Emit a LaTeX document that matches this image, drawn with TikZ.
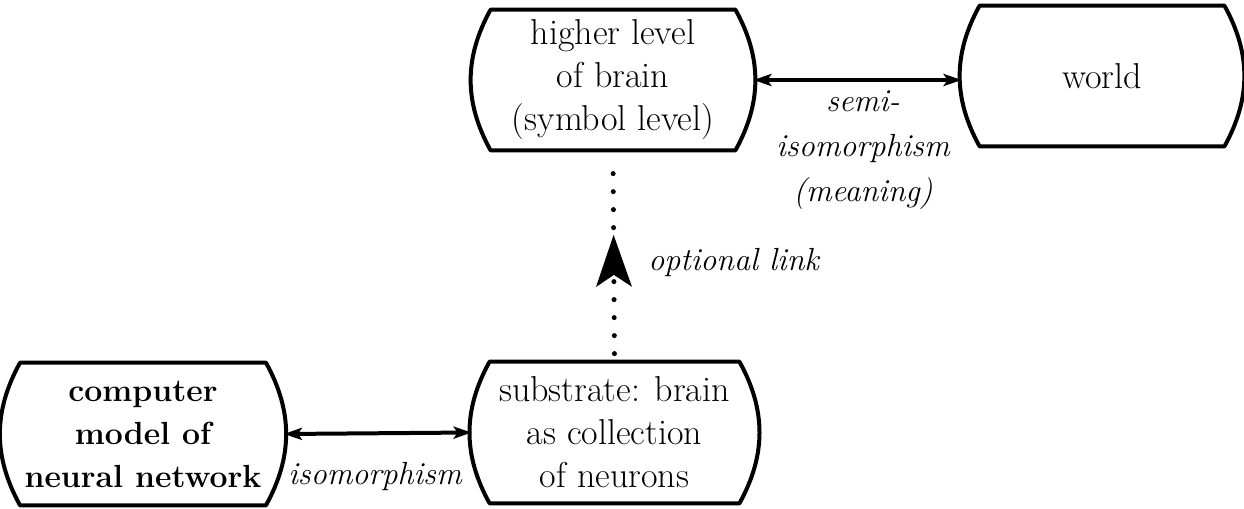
\documentclass[tikz,border=0pt]{standalone}
\usetikzlibrary{arrows.meta,decorations.markings}
\tikzset{
	level/.style={draw=none,inner sep=0pt,align=center,font=\fontsize{18}{21.5}\selectfont},
	bold level/.style={level,font=\bfseries\fontsize{16}{21.5}\selectfont},
	lab/.style={inner sep=0pt,align=center,font=\itshape\fontsize{16}{22.5}\selectfont},
	boxline/.style={line width=2pt,line join=round},
}
\begin{document}
\begin{tikzpicture}[x=0.5pt,y=-0.5pt,>={Stealth[length=9pt,width=6pt,inset=2pt]}]
	\useasboundingbox (0,0) rectangle (1244,509);
	% the four levels
	\node[level,minimum width=140pt,minimum height=70pt] (high) at (613,80) {higher level\\of brain\\(symbol level)};
	\node[level,minimum width=140pt,minimum height=70pt] (world) at (1102,76) {world};
	\node[bold level,minimum width=140.5pt,minimum height=71pt] (comp) at (143,434) {computer\\model of\\neural network};
	\node[level,minimum width=142.5pt,minimum height=70.5pt] (sub) at (614.5,432.5) {substrate: brain\\as collection\\of neurons};
	\foreach \n in {high,world,comp,sub}
		\draw[boxline] ([xshift=9pt]\n.north west) -- ([xshift=-9pt]\n.north east)
		to[bend left=29] ([xshift=-9pt]\n.south east) -- ([xshift=9pt]\n.south west)
		to[bend left=29] cycle;
	% links
	\draw[<->,line width=2pt] (high.east) -- (high.east -| world.west);
	\draw[<->,line width=2pt] (comp.east) -- (sub.west);
	\draw[line width=2.5pt,line cap=round,dash pattern=on 0pt off 9pt,shorten <=4pt,shorten >=5pt,
		postaction={decorate},decoration={markings,mark=at position 0.6 with {\arrow{Stealth[length=26pt,width=18pt,inset=6pt,line width=0pt]}}}]
		(sub.north) -- (high.south);
	% labels
	\node[lab] (semi) at (863,150) {semi-\\isomorphism\\(meaning)};
	\node[lab] (iso) at (375,476) {isomorphism};
	\node[lab,anchor=base west] (opt) at (648,270) {optional link};
\end{tikzpicture}
\end{document}
